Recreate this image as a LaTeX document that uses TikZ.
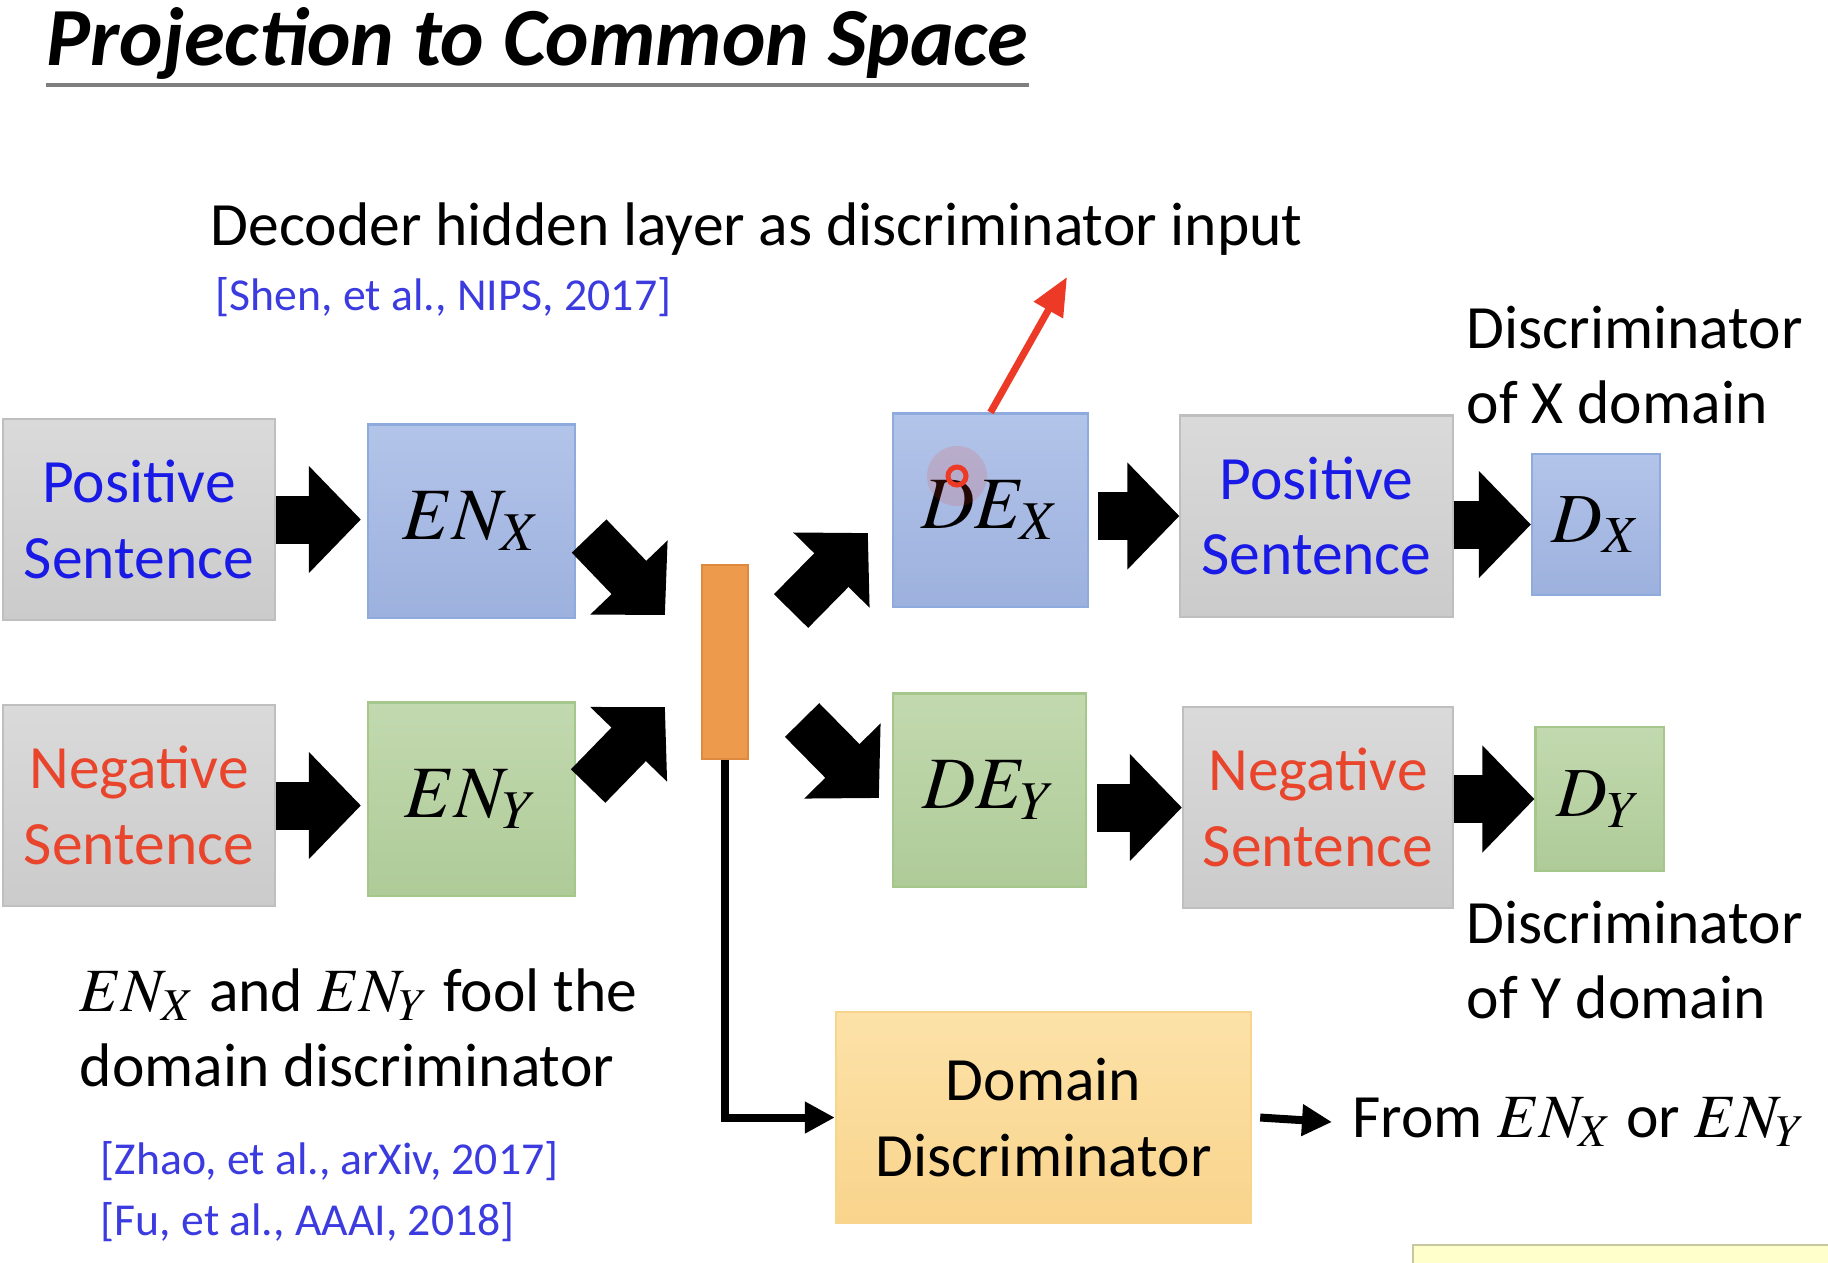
\documentclass[tikz,border=0pt]{standalone}
\usepackage{mathptmx}
\usepackage{fontspec}
\setmainfont{Carlito}
\usetikzlibrary{arrows.meta,calc}
\definecolor{graytop}{HTML}{DADADA}
\definecolor{graybot}{HTML}{CBCBCB}
\definecolor{grayline}{HTML}{BFBFBF}
\definecolor{bluetop}{HTML}{B3C4E9}
\definecolor{bluebot}{HTML}{9DB1DE}
\definecolor{blueline}{HTML}{8FAADC}
\definecolor{greentop}{HTML}{C2D9AF}
\definecolor{greenbot}{HTML}{AFCB98}
\definecolor{greenline}{HTML}{A6C78C}
\definecolor{bartone}{HTML}{EE9A4D}
\definecolor{barline}{HTML}{DD8A40}
\definecolor{yellowtop}{HTML}{FCE2A8}
\definecolor{yellowbot}{HTML}{F9D48C}
\definecolor{posblue}{HTML}{1A1AE6}
\definecolor{negred}{HTML}{E8452C}
\definecolor{citeblue}{HTML}{3B3BE0}
\definecolor{rulegray}{HTML}{7F7F7F}
\definecolor{laser}{HTML}{EC3A26}
\definecolor{notefill}{HTML}{FFFFCC}
\definecolor{noteline}{HTML}{C8C8A0}
\begin{document}
\begin{tikzpicture}[x=0.01cm,y=-0.01cm,
  every node/.style={font=\fontsize{17.5}{21.5}\selectfont},
  sentence/.style={draw=grayline, top color=graytop, bottom color=graybot, line width=0.6pt, minimum width=2.72cm, minimum height=2.01cm, align=center},
  bluebox/.style={draw=blueline, top color=bluetop, bottom color=bluebot, line width=0.6pt},
  greenbox/.style={draw=greenline, top color=greentop, bottom color=greenbot, line width=0.6pt},
  coder/.style={minimum width=2.0cm, minimum height=1.93cm, font=\fontsize{21}{25}\selectfont},
  judge/.style={minimum width=1.28cm, minimum height=1.41cm, font=\fontsize{20}{24}\selectfont},
  label/.style={inner sep=0, align=left},
  cite/.style={inner sep=0, text=citeblue, font=\fontsize{13}{15}\selectfont},
  fat/.style={line width=0.48cm, -{Triangle[length=0.52cm,width=1.04cm]}},
  link/.style={line width=0.08cm, -{Triangle[length=0.3cm,width=0.3cm]}},
  pointer/.style={draw=laser, line width=0.07cm, -{Triangle[length=0.38cm,width=0.32cm]}}]
  \useasboundingbox (0,0) rectangle (1828,1262);

  % title
  \node[inner sep=0, anchor=base west, font=\fontsize{23.5}{28}\selectfont\bfseries\itshape] (title) at (46,65) {Projection to Common Space};
  \draw[rulegray, line width=0.04cm] ($(title.base west)+(0,20)$) -- ($(title.base east)+(0,20)$);

  % boxes
  \node[sentence, text=posblue] (posin) at (139,519.5) {Positive\\Sentence};
  \node[sentence, text=negred] (negin) at (139,805.5) {Negative\\Sentence};
  \node[bluebox, coder, minimum width=2.07cm] (enx) at (471.5,521) {$EN_X$};
  \node[greenbox, coder, minimum width=2.07cm] (eny) at (471.5,799) {$EN_Y$};
  \node[draw=barline, fill=bartone, line width=0.6pt, minimum width=0.46cm, minimum height=1.94cm] (latent) at (725,662) {};
  \node[bluebox, coder, minimum width=1.95cm] (dex) at (990.5,510) {$DE_X$};
  \node[greenbox, coder, minimum width=1.93cm] (dey) at (989.5,790) {$DE_Y$};
  \node[sentence, text=posblue] (posout) at (1316.5,516) {Positive\\Sentence};
  \node[sentence, text=negred, minimum width=2.70cm] (negout) at (1318,807.5) {Negative\\Sentence};
  \node[bluebox, judge] (dx) at (1596,524.5) {$D_X$};
  \node[greenbox, judge, minimum height=1.44cm] (dy) at (1599.5,799) {$D_Y$};
  \node[draw=yellowbot, top color=yellowtop, bottom color=yellowbot, line width=0.6pt, minimum width=4.15cm, minimum height=2.11cm, align=center] (dom) at (1043.5,1117.5) {Domain\\Discriminator};

  % texts
  \node[label, anchor=base west] (hidden) at (210,245) {Decoder hidden layer as discriminator input};
  \node[cite, anchor=base west] (shen) at (215,310) {[Shen, et al., NIPS, 2017]};
  \node[label, anchor=west] (discx) at (1466,365) {Discriminator\\of X domain};
  \node[label, anchor=west] (discy) at (1466,960) {Discriminator\\of Y domain};
  \node[label, anchor=west] (fool) at (79,1028) {$EN_X$ and $EN_Y$ fool the\\domain discriminator};
  \node[cite, anchor=base west] (zhao) at (100,1174) {[Zhao, et al., arXiv, 2017]};
  \node[cite, anchor=base west] (fu) at (100,1235) {[Fu, et al., AAAI, 2018]};
  \node[label, anchor=west, inner xsep=0.2cm] (fromtxt) at (1332,1122) {From $EN_X$ or $EN_Y$};

  % block arrows
  \draw[fat, shorten >=0.06cm] (posin.east) -- (posin.east -| enx.west);
  \draw[fat, shorten >=0.06cm] (negin.east) -- (negin.east -| eny.west);
  \draw[fat] ($(enx.east)+(13,15)$) -- ($(latent.west)+(-36,-47)$);
  \draw[fat] ($(eny.east)+(12,-13)$) -- ($(latent.west)+(-36,45)$);
  \draw[fat] ($(latent.east)+(42,-51)$) -- ($(dex.west)+(-24,23)$);
  \draw[fat] ($(latent.east)+(53,58)$) -- ($(dey.west)+(-13,8)$);
  \draw[fat, shorten <=0.09cm] (posout.west -| dex.east) -- (posout.west);
  \draw[fat, shorten <=0.1cm] (negout.west -| dey.east) -- (negout.west);
  \draw[fat] (posout.east |- dx.west) -- (dx.west);
  \draw[fat] (negout.east |- dy.west) -- (dy.west);

  % thin connectors
  \draw[link] (latent.south) |- (dom.west);
  \draw[link] ([xshift=0.08cm]dom.east) -- (fromtxt.west);

  % laser pointer
  \coordinate (redtip) at (1067,277);
  \draw[pointer] (dex.north) -- (redtip);
  \fill[laser, opacity=0.15] (957,476) circle[radius=0.3cm];
  \draw[laser, line width=0.05cm] (957,476) circle[radius=0.09cm];

  % note at the corner
  \draw[noteline, fill=notefill, line width=0.6pt] (1413,1245) rectangle (1840,1290);
\end{tikzpicture}
\end{document}
